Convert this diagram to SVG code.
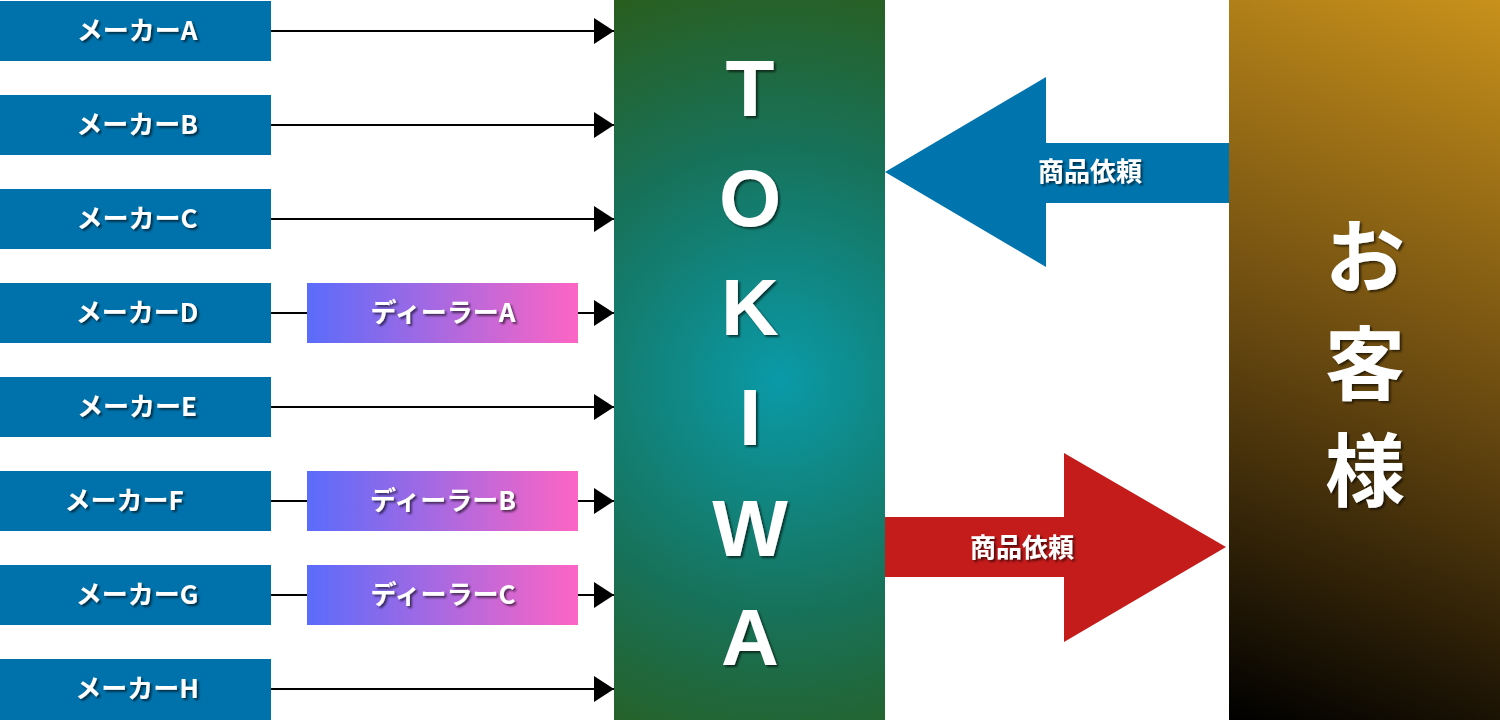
<svg xmlns="http://www.w3.org/2000/svg" width="1500" height="720" viewBox="0 0 1500 720">
<defs>
<radialGradient id="gT" cx="780" cy="380" r="420" gradientUnits="userSpaceOnUse">
<stop offset="0" stop-color="#0a9aa8"/>
<stop offset="0.55" stop-color="#17725a"/>
<stop offset="1" stop-color="#2a5d1c"/>
</radialGradient>
<linearGradient id="gC" x1="1500" y1="0" x2="1229" y2="720" gradientUnits="userSpaceOnUse">
<stop offset="0" stop-color="#c8911b"/>
<stop offset="0.5" stop-color="#6a4a10"/>
<stop offset="1" stop-color="#000000"/>
</linearGradient>
<linearGradient id="gD" x1="0" y1="0" x2="1" y2="0">
<stop offset="0" stop-color="#5a6cfb"/>
<stop offset="1" stop-color="#fd65c4"/>
</linearGradient>
<filter id="sh" x="-20%" y="-20%" width="140%" height="140%">
<feDropShadow dx="2" dy="2" stdDeviation="1" flood-color="#000" flood-opacity="0.6"/>
</filter>
<marker id="ah" viewBox="0 0 20 26" refX="20" refY="13" markerWidth="20" markerHeight="26" markerUnits="userSpaceOnUse" orient="auto">
<path d="M0,0 L20,13 L0,26 Z" fill="#000"/>
</marker>
<style>
.mk{fill:#0072ab}
.dl{fill:url(#gD)}
.t{font-family:"Noto Sans CJK JP","Noto Sans",sans-serif;font-weight:bold;fill:#fff;text-anchor:middle;filter:url(#sh)}
.s{font-size:26px}
.big{font-size:80px;font-family:"Liberation Sans",Arial,sans-serif}
.cj{font-size:80px}
.ln{stroke:#000;stroke-width:2;fill:none}
</style>
</defs>
<rect width="1500" height="720" fill="#fff"/>

<g id="connectors">
<line class="ln" x1="271" y1="31" x2="614" y2="31" marker-end="url(#ah)"/>
<line class="ln" x1="271" y1="125" x2="614" y2="125" marker-end="url(#ah)"/>
<line class="ln" x1="271" y1="219" x2="614" y2="219" marker-end="url(#ah)"/>
<line class="ln" x1="271" y1="313" x2="307" y2="313"/>
<line class="ln" x1="578" y1="313" x2="614" y2="313" marker-end="url(#ah)"/>
<line class="ln" x1="271" y1="407" x2="614" y2="407" marker-end="url(#ah)"/>
<line class="ln" x1="271" y1="501" x2="307" y2="501"/>
<line class="ln" x1="578" y1="501" x2="614" y2="501" marker-end="url(#ah)"/>
<line class="ln" x1="271" y1="595" x2="307" y2="595"/>
<line class="ln" x1="578" y1="595" x2="614" y2="595" marker-end="url(#ah)"/>
<line class="ln" x1="271" y1="689" x2="614" y2="689" marker-end="url(#ah)"/>
</g>

<g id="makerA"><rect class="mk" x="0" y="1" width="271" height="60"/><text class="t s" x="137" y="40">メーカーA</text></g>
<g id="makerB"><rect class="mk" x="0" y="95" width="271" height="60"/><text class="t s" x="137" y="134">メーカーB</text></g>
<g id="makerC"><rect class="mk" x="0" y="189" width="271" height="60"/><text class="t s" x="137" y="228">メーカーC</text></g>
<g id="makerD"><rect class="mk" x="0" y="283" width="271" height="60"/><text class="t s" x="137" y="322">メーカーD</text></g>
<g id="makerE"><rect class="mk" x="0" y="377" width="271" height="60"/><text class="t s" x="137" y="416">メーカーE</text></g>
<g id="makerF"><rect class="mk" x="0" y="471" width="271" height="60"/><text class="t s" x="124" y="510">メーカーF</text></g>
<g id="makerG"><rect class="mk" x="0" y="565" width="271" height="60"/><text class="t s" x="137" y="604">メーカーG</text></g>
<g id="makerH"><rect class="mk" x="0" y="659" width="271" height="61"/><text class="t s" x="137" y="698">メーカーH</text></g>

<g id="dealerA"><rect class="dl" x="307" y="283" width="271" height="60"/><text class="t s" x="443" y="322">ディーラーA</text></g>
<g id="dealerB"><rect class="dl" x="307" y="471" width="271" height="60"/><text class="t s" x="443" y="510">ディーラーB</text></g>
<g id="dealerC"><rect class="dl" x="307" y="565" width="271" height="60"/><text class="t s" x="443" y="604">ディーラーC</text></g>

<g id="tokiwa">
<rect x="614" y="0" width="271" height="720" fill="url(#gT)"/>
<text class="t big" x="750" y="116">T</text>
<text class="t big" x="750" y="226">O</text>
<text class="t big" x="750" y="335">K</text>
<text class="t big" x="750" y="445">I</text>
<text class="t big" x="750" y="556">W</text>
<text class="t big" x="750" y="665">A</text>
</g>

<g id="customer">
<rect x="1229" y="0" width="271" height="720" fill="url(#gC)"/>
<text class="t cj" x="1365" y="286">お</text>
<text class="t cj" x="1365" y="393">客</text>
<text class="t cj" x="1365" y="500">様</text>
</g>

<g id="request-arrow">
<polygon points="885,172 1046,77 1046,143 1229,143 1229,203 1046,203 1046,267" fill="#0074ad"/>
<text class="t s" x="1090" y="181">商品依頼</text>
</g>

<g id="delivery-arrow">
<polygon points="885,517 1064,517 1064,453 1226,547 1064,642 1064,577 885,577" fill="#c41b1b"/>
<text class="t s" x="1022" y="557">商品依頼</text>
</g>
</svg>
